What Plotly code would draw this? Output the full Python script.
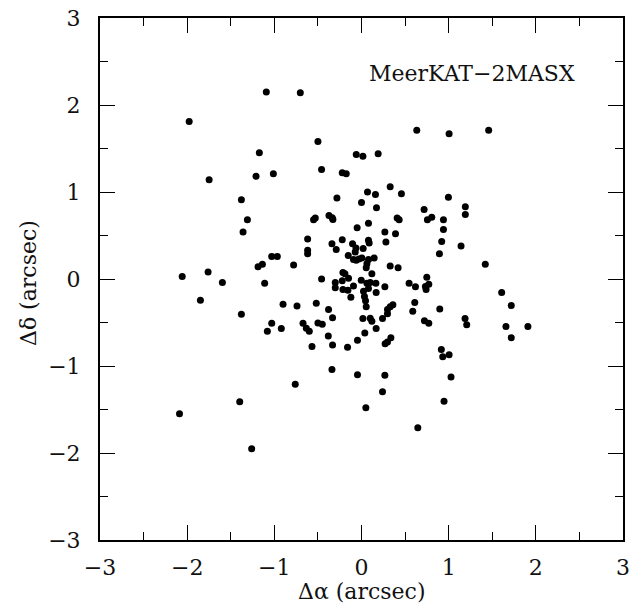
import plotly.graph_objects as go

dra = [
    -1.092, -0.702, -1.977, -0.50, -1.172, -0.06, 0.016, 0.191, -0.458, -1.21, -1.011, -1.748, -0.221, -0.175,
    0.634, 1.005, 1.459,
    -0.282, -1.378, -1.309, -1.359,
    0.329, 0.069, 0.16, 0.458, 0.0, 0.172, 0.997,
    1.191, 1.191, 0.718, 0.756, 0.806, 0.94, 0.94, 0.92, 0.894, 1.142, 1.42,
    -0.55, -0.53, -0.373, -0.336, -0.328,
    0.409, 0.432,
    0.08, -0.05, 0.268, 0.39,
    -0.618, -0.618, -0.618,
    -0.339, -0.29, -0.221, -0.103, -0.064, -0.072, 0.019, 0.08, 0.088, 0.28,
    -0.152, -0.092, -0.061, 0.004, -0.03, 0.08, 0.145, 0.062, 0.054, 0.329, 0.42,
    -1.03, -0.966, -1.187, -1.137, -0.779, -1.76, -2.057,
    0.119, -0.458, -0.301, -0.301, -0.213, -0.19, -0.149, -0.221, -0.092, -0.213, -0.156, -0.122, -0.003,
    0.062, 0.10, 0.165, 0.023, 0.08, 0.168, 0.268, 0.034, 0.046, 0.054,
    0.546, 0.619, 0.749, 0.772, 0.733, 0.741,
    1.608, 1.718,
    -1.596, -1.848, -1.378, -1.111,
    -0.90, -0.74, -0.519, -0.378, -0.332,
    -1.03, -1.08, -0.92,
    -0.671, -0.633, -0.599, -0.50, -0.45, -0.381, -0.568, -0.332, -0.16, -0.046, 0.038,
    0.016, 0.10, 0.119, 0.168, 0.241,
    0.298, 0.298, 0.329, 0.36,
    0.271, 0.298, 0.337,
    0.611, 0.588, 0.898, 0.722, 0.772,
    1.188, 1.207, 1.657, 1.909, 1.718,
    0.916, 0.932, 1.005,
    -0.339, -0.046, 0.268, 1.027, -0.76, 0.241, -1.397, 0.947, 0.05, -2.088, 0.646, -1.26,
]
ddec = [
    2.15, 2.14, 1.81, 1.58, 1.45, 1.43, 1.41, 1.44, 1.26, 1.18, 1.21, 1.14, 1.22, 1.21,
    1.71, 1.67, 1.71,
    0.93, 0.91, 0.68, 0.54,
    1.06, 1.00, 0.97, 0.98, 0.88, 0.82, 0.94,
    0.83, 0.74, 0.80, 0.68, 0.71, 0.68, 0.57, 0.43, 0.29, 0.38, 0.17,
    0.68, 0.70, 0.73, 0.705, 0.685,
    0.70, 0.68,
    0.64, 0.59, 0.54, 0.52,
    0.46, 0.33, 0.29,
    0.405, 0.34, 0.45, 0.405, 0.355, 0.31, 0.35, 0.445, 0.415, 0.425,
    0.27, 0.225, 0.215, 0.24, 0.23, 0.225, 0.24, 0.175, 0.13, 0.15, 0.13,
    0.26, 0.26, 0.14, 0.17, 0.16, 0.08, 0.03,
    0.06, 0.0, -0.04, -0.10, 0.075, 0.06, 0.01, -0.02, -0.08, -0.12, -0.13, -0.21, -0.015,
    -0.05, -0.04, -0.05, -0.14, -0.11, -0.155, -0.09, -0.2, -0.25, -0.32,
    -0.05, -0.09, 0.02, -0.06, -0.085, -0.12,
    -0.155, -0.305,
    -0.04, -0.245, -0.405, -0.05,
    -0.29, -0.31, -0.28, -0.35, -0.445,
    -0.51, -0.60, -0.57,
    -0.51, -0.565, -0.60, -0.505, -0.52, -0.655, -0.775, -0.76, -0.785, -0.705, -0.62,
    -0.455, -0.45, -0.485, -0.57, -0.455,
    -0.40, -0.35, -0.32, -0.295,
    -0.745, -0.725, -0.675,
    -0.27, -0.37, -0.345, -0.48, -0.51,
    -0.455, -0.525, -0.545, -0.545, -0.675,
    -0.81, -0.895, -0.87,
    -1.04, -1.10, -1.105, -1.125, -1.21, -1.295, -1.41, -1.405, -1.48, -1.55, -1.71, -1.95,
]
tick_vals = [-3, -2, -1, 0, 1, 2, 3]
tick_text = ["\u22123", "\u22122", "\u22121", "0", "1", "2", "3"]
label = "MeerKAT\u22122MASX"
xtitle = "\u0394\u03b1 (arcsec)"
ytitle = "\u0394\u03b4 (arcsec)"

FONT = "DejaVu Serif"
INK = "#111"

fig = go.Figure()
fig.add_trace(go.Scatter(
    x=dra, y=ddec, mode="markers",
    marker=dict(color="black", size=7, line=dict(width=0)),
    showlegend=False, hoverinfo="skip",
))

axis_common = dict(
    range=[-3, 3], tickvals=tick_vals, ticktext=tick_text,
    ticks="inside", ticklen=15, tickwidth=1.3, tickcolor="black",
    minor=dict(ticks="inside", ticklen=8, tickwidth=1.3, tickcolor="black", dtick=0.5, tick0=0),
    showline=True, linecolor="black", linewidth=2, mirror="ticks",
    showgrid=False, zeroline=False, automargin=False,
    tickfont=dict(family=FONT, size=22, color=INK),
)

fig.update_layout(
    width=644, height=608,
    margin=dict(l=100, r=21, t=18, b=68, autoexpand=False),
    paper_bgcolor="white", plot_bgcolor="white",
    xaxis=dict(**axis_common, ticklabelstandoff=7),
    yaxis=dict(**axis_common, ticklabelstandoff=13),
)
fig.add_annotation(
    x=1.27, y=2.36, xref="x", yref="y", text=label, showarrow=False,
    font=dict(family=FONT, size=22, color=INK), xanchor="center", yanchor="middle",
)
fig.add_annotation(
    x=0.5, y=-0.0996, xref="paper", yref="paper", text=xtitle, showarrow=False,
    font=dict(family=FONT, size=22, color=INK), xanchor="center", yanchor="middle",
)
fig.add_annotation(
    x=-0.138, y=0.492, xref="paper", yref="paper", text=ytitle, showarrow=False, textangle=-90,
    font=dict(family=FONT, size=22, color=INK), xanchor="center", yanchor="middle",
)

fig.write_html("out.html")
